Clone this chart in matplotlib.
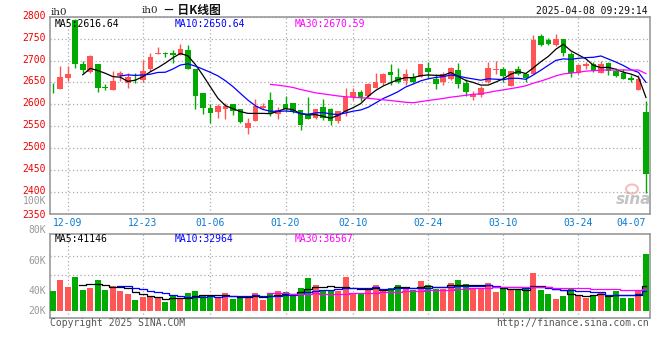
import numpy as np
import pandas as pd
import matplotlib
matplotlib.use("Agg")
import matplotlib.pyplot as plt
import matplotlib.transforms as mtransforms
from matplotlib.patches import Ellipse

# ---------------- data ----------------
dates = [
    "12-05", "12-06", "12-09", "12-10", "12-11", "12-12", "12-13", "12-16", "12-17", "12-18",
    "12-19", "12-20", "12-23", "12-24", "12-25", "12-26", "12-27", "12-30", "12-31",
    "01-02", "01-03", "01-06", "01-07", "01-08", "01-09", "01-10", "01-13", "01-14", "01-15",
    "01-16", "01-17", "01-20", "01-21", "01-22", "01-23", "01-24", "01-27",
    "02-05", "02-06", "02-07", "02-10", "02-11", "02-12", "02-13", "02-14", "02-17", "02-18",
    "02-19", "02-20", "02-21", "02-24", "02-25", "02-26", "02-27", "02-28",
    "03-03", "03-04", "03-05", "03-06", "03-07", "03-10", "03-11", "03-12", "03-13", "03-14",
    "03-17", "03-18", "03-19", "03-20", "03-21", "03-24", "03-25", "03-26", "03-27", "03-28",
    "03-31", "04-01", "04-02", "04-03", "04-07",
]

open_ = [2638, 2634, 2659, 2792, 2691, 2674, 2691, 2639, 2632, 2665,
         2649, 2654, 2655, 2680, 2714, 2718, 2718, 2713, 2723, 2680,
         2625, 2592, 2582, 2588, 2600, 2588, 2546, 2562, 2592, 2609,
         2578, 2600, 2602, 2587, 2577, 2568, 2594, 2588, 2562, 2582,
         2617, 2628, 2619, 2638, 2648, 2674, 2663, 2653, 2663, 2663,
         2684, 2657, 2651, 2657, 2678, 2649, 2617, 2620, 2651, 2679,
         2681, 2642, 2681, 2670, 2668, 2755, 2748, 2735, 2749, 2716,
         2671, 2687, 2691, 2671, 2695, 2676, 2671, 2661, 2633, 2582]
high = [2649, 2687, 2687, 2796, 2699, 2713, 2693, 2646, 2676, 2676,
        2672, 2672, 2701, 2718, 2732, 2719, 2723, 2737, 2735, 2680,
        2625, 2600, 2600, 2602, 2600, 2590, 2569, 2611, 2603, 2628,
        2594, 2619, 2603, 2587, 2616, 2590, 2611, 2592, 2584, 2636,
        2636, 2632, 2649, 2672, 2672, 2691, 2684, 2680, 2672, 2693,
        2697, 2668, 2674, 2686, 2694, 2658, 2630, 2642, 2697, 2699,
        2685, 2676, 2687, 2672, 2758, 2760, 2752, 2760, 2750, 2720,
        2691, 2697, 2697, 2699, 2697, 2684, 2681, 2666, 2666, 2607]
low = [2626, 2634, 2653, 2684, 2672, 2671, 2628, 2632, 2632, 2653,
       2638, 2649, 2651, 2676, 2714, 2709, 2695, 2713, 2681, 2590,
       2578, 2558, 2569, 2567, 2575, 2558, 2533, 2562, 2590, 2573,
       2567, 2584, 2581, 2541, 2567, 2567, 2565, 2552, 2558, 2573,
       2610, 2607, 2615, 2638, 2643, 2645, 2649, 2645, 2648, 2663,
       2661, 2634, 2645, 2655, 2638, 2619, 2610, 2617, 2649, 2668,
       2651, 2642, 2666, 2651, 2668, 2733, 2735, 2733, 2710, 2663,
       2668, 2681, 2674, 2671, 2666, 2663, 2657, 2651, 2633, 2398]
close = [2637, 2663, 2668, 2691, 2678, 2710, 2638, 2637, 2653, 2671,
         2662, 2652, 2677, 2709, 2718, 2715, 2712, 2727, 2681, 2619,
         2592, 2579, 2597, 2597, 2584, 2559, 2558, 2597, 2597, 2581,
         2587, 2588, 2584, 2552, 2567, 2590, 2569, 2562, 2584, 2617,
         2628, 2615, 2646, 2651, 2668, 2666, 2651, 2668, 2651, 2691,
         2674, 2646, 2668, 2684, 2646, 2628, 2623, 2638, 2684, 2681,
         2665, 2676, 2668, 2661, 2746, 2735, 2737, 2750, 2718, 2671,
         2689, 2691, 2676, 2691, 2676, 2665, 2658, 2655, 2658, 2441]
volume = [33500, 51800, 40700, 57400, 35100, 38500, 51800, 35100, 41800, 33500,
          29000, 18400, 23400, 25100, 21200, 15100, 24500, 20100, 30100, 33500,
          27300, 24000, 21200, 30100, 20100, 25600, 21200, 30100, 18400, 28400,
          33500, 31800, 29000, 38500, 55200, 43500, 35100, 33500, 33500, 57400,
          30100, 27900, 35100, 43500, 36800, 38500, 43500, 36800, 35100, 50200,
          43500, 36800, 36800, 46800, 51800, 45200, 36800, 36800, 46800, 31800,
          36800, 35100, 35100, 36800, 63600, 35100, 28400, 20100, 25100, 36800,
          25600, 21700, 25100, 31800, 25100, 33500, 21700, 21700, 33500, 95300]

date_ticks = ["12-09", "12-23", "01-06", "01-20", "02-10", "02-24", "03-10", "03-24", "04-07"]
price_ticks = [2350, 2400, 2450, 2500, 2550, 2600, 2650, 2700, 2750, 2800]
vol_labels = ["100K", "80K", "60K", "40K", "20K"]

price_ma_text = ["MA5:2616.64", "MA10:2650.64", "MA30:2670.59"]
vol_ma_text = ["MA5:41146", "MA10:32964", "MA30:36567"]
title_code = "ih0"
title_text = "－ 日K线图"
timestamp = "2025-04-08 09:29:14"
footer_left = "Copyright 2025 SINA.COM"
footer_right = "http://finance.sina.com.cn"

# ---------------- styling ----------------
W, H = 660, 360
RED = "#ff5555"
GREEN = "#00aa00"
MA_COLORS = ["#000000", "#0000ff", "#ff00ff"]
GRID = "#aaaaaa"
FRAME = "#999999"
MONO = "DejaVu Sans Mono"
FS = 7.0

def fx(x):
    return x / W

def fy(y):
    return 1 - y / H

o = np.array(open_, float)
h = np.array(high, float)
l = np.array(low, float)
c = np.array(close, float)
v = np.array(volume, float)
x = np.arange(len(c))
up = c >= o
cols = np.where(up, RED, GREEN)

fig = plt.figure(figsize=(W / 100, H / 100), dpi=100)
fig.patch.set_facecolor("white")

left_px, right_px = 50, 649.5
ax = fig.add_axes([fx(left_px), fy(213.5), (right_px - left_px) / W, (213.5 - 16.8) / H])
axv = fig.add_axes([fx(left_px), fy(318.3), (right_px - left_px) / W, (318.3 - 234.3) / H])

xlim = (-0.36, 79.47)
tick_idx = [dates.index(d) for d in date_ticks]

# ---- price panel ----
ax.vlines(x, l, h, colors=cols, lw=1, zorder=3)
body = np.maximum(np.abs(c - o), 1.2)
ax.bar(x, body, bottom=np.minimum(o, c), width=0.75, color=cols, linewidth=0, zorder=4)

cs = pd.Series(c)
for n, col in zip([5, 10, 30], MA_COLORS):
    ax.plot(x, cs.rolling(n).mean(), color=col, lw=0.9, zorder=5)

ax.set_xlim(*xlim)
ax.set_ylim(price_ticks[0], price_ticks[-1])
ax.set_yticks(price_ticks)
ax.set_yticklabels([str(t) for t in price_ticks], color="#ee0000", fontsize=FS, family=MONO)
ax.set_xticks(tick_idx)
ax.set_xticklabels(date_ticks, color="#0a7ad0", fontsize=FS, family=MONO)
lbls = ax.get_xticklabels()
lbls[-1].set_horizontalalignment("right")
ax.tick_params(length=0, pad=3)
lift = mtransforms.ScaledTranslation(0, 0.02, fig.dpi_scale_trans)
for lab in ax.get_yticklabels()[1:]:
    lab.set_transform(lab.get_transform() + lift)
ax.grid(axis="y", color=GRID, lw=0.9, linestyle=(0, (1, 2)))
for t in tick_idx[:-1]:
    ax.axvline(t, color=GRID, lw=0.9, linestyle=(0, (1, 2)), zorder=1)
for s in ax.spines.values():
    s.set_color(FRAME)
    s.set_linewidth(1.2)

# ---- volume panel ----
axv.bar(x, v, width=0.8, color=cols, linewidth=0, zorder=3)
vs = pd.Series(v)
for n, col in zip([5, 10, 30], MA_COLORS):
    axv.plot(x, vs.rolling(n).mean(), color=col, lw=0.9, drawstyle="steps-mid", zorder=4)
axv.set_xlim(*xlim)
axv.set_ylim(-12200, 128300)
axv.set_yticks([60200, 92500])
axv.set_yticklabels([])
axv.set_xticks([])
axv.tick_params(length=0)
axv.grid(axis="y", color=GRID, lw=0.9, linestyle=(0, (1, 2)))
for t in tick_idx[:-1]:
    axv.axvline(t, color=GRID, lw=0.9, linestyle=(0, (1, 2)), zorder=1)
for s in axv.spines.values():
    s.set_color(FRAME)
    s.set_linewidth(1.2)

# ---- texts ----
for txt, col, xp in zip(price_ma_text, MA_COLORS, [55, 175, 295]):
    fig.text(fx(xp), fy(24), txt, color=col, fontsize=FS, family=MONO, va="center", ha="left", zorder=10)
for txt, col, xp in zip(vol_ma_text, MA_COLORS, [55, 175, 295]):
    fig.text(fx(xp), fy(238.5), txt, color=col, fontsize=FS, family=MONO, va="center", ha="left", zorder=10)

for lab, yp in zip(vol_labels, [200.5, 230, 261, 291, 311]):
    fig.text(fx(46), fy(yp), lab, color="#999999", fontsize=FS, family=MONO, va="center", ha="right")

fig.text(fx(50.5), fy(12.5), title_code, color="#222222", fontsize=7.5, family="DejaVu Serif", va="center", ha="left")
fig.text(fx(141.5), fy(10.5), title_code, color="#222222", fontsize=7.5, family="DejaVu Serif", va="center", ha="left")
fig.text(fx(163), fy(10.5), title_text, color="#111111", fontsize=8.5,
         family=["Noto Sans CJK SC", "DejaVu Sans"], weight="bold", va="center", ha="left")
fig.text(fx(648), fy(10.5), timestamp, color="#111111", fontsize=FS, family=MONO, va="center", ha="right")
fig.text(fx(50), fy(323), footer_left, color="#555555", fontsize=FS, family=MONO, va="center", ha="left")
fig.text(fx(649), fy(323), footer_right, color="#555555", fontsize=FS, family=MONO, va="center", ha="right")

# sina watermark
fig.add_artist(Ellipse((fx(632), fy(189)), 12 / W, 9 / H, transform=fig.transFigure,
                       fill=False, edgecolor="#f4b0b0", lw=1.5, alpha=0.8))
fig.text(fx(634), fy(200), "sina", color="#b5b5b5", fontsize=11, style="italic", weight="bold",
         va="center", ha="center", alpha=0.8)

fig.savefig("out.png", dpi=100, facecolor="white")
